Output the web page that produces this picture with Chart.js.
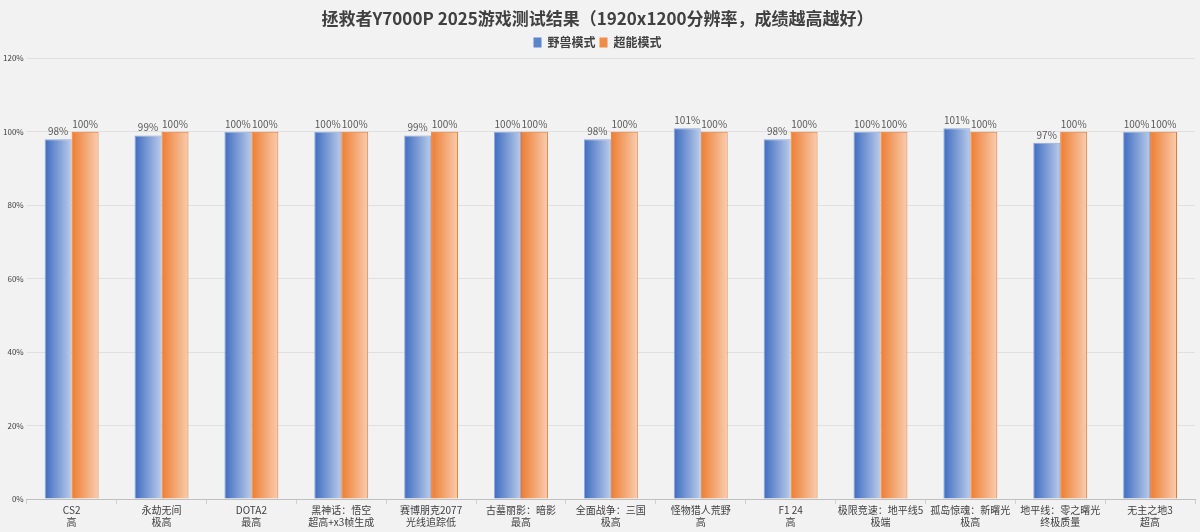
<!DOCTYPE html>
<html>
<head>
<meta charset="utf-8">
<script src="https://cdn.jsdelivr.net/npm/chart.js@4/dist/chart.umd.min.js"></script>
<style>
  html, body { margin: 0; padding: 0; background: #f2f2f2; }
  #chart { display: block; }
</style>
</head>
<body>
<canvas id="chart" width="1200" height="532"></canvas>
<script>
// game names and settings (two-line x labels)
const games = [
  ['CS2', '高'],
  ['永劫无间', '极高'],
  ['DOTA2', '最高'],
  ['黑神话：悟空', '超高+x3帧生成'],
  ['赛博朋克2077', '光线追踪低'],
  ['古墓丽影：暗影', '最高'],
  ['全面战争：三国', '极高'],
  ['怪物猎人荒野', '高'],
  ['F1 24', '高'],
  ['极限竞速：地平线5', '极端'],
  ['孤岛惊魂：新曙光', '极高'],
  ['地平线：零之曙光', '终极质量'],
  ['无主之地3', '超高']
];
const beastMode = [98, 99, 100, 100, 99, 100, 98, 101, 98, 100, 101, 97, 100];
const superMode = [100, 100, 100, 100, 100, 100, 100, 100, 100, 100, 100, 100, 100];
const yTicks = [0, 20, 40, 60, 80, 100, 120];

const FONT = '"Noto Sans CJK SC", "Noto Sans", sans-serif';
const CAT_PCT = 0.6;

// horizontal gradient per bar, worked out from the x scale
function barGradient(from, to) {
  return function (ctx) {
    const chart = ctx.chart;
    const xs = chart.scales.x;
    if (!xs || ctx.dataIndex === undefined) return from;
    const cat = xs.width / games.length;
    const w = cat * CAT_PCT / 2;
    const cx = xs.getPixelForValue(ctx.dataIndex);
    const x0 = ctx.datasetIndex === 0 ? cx - w : cx;
    if (!isFinite(x0)) return from;
    const g = chart.ctx.createLinearGradient(x0, 0, x0 + w, 0);
    g.addColorStop(0, from);
    g.addColorStop(1, to);
    return g;
  };
}

const bgPlugin = {
  id: 'bg',
  beforeDraw(chart) {
    const c = chart.ctx;
    c.save();
    c.fillStyle = '#f2f2f2';
    c.fillRect(0, 0, chart.width, chart.height);
    c.restore();
  }
};

const valueLabels = {
  id: 'valueLabels',
  afterDatasetsDraw(chart) {
    const c = chart.ctx;
    c.save();
    c.font = '10px ' + FONT;
    c.fillStyle = '#595959';
    c.textAlign = 'center';
    c.textBaseline = 'bottom';
    chart.data.datasets.forEach((ds, di) => {
      chart.getDatasetMeta(di).data.forEach((el, i) => {
        c.fillText(ds.data[i] + '%', el.x, el.y - 3);
      });
    });
    c.restore();
  }
};

new Chart(document.getElementById('chart'), {
  type: 'bar',
  data: {
    labels: games,
    datasets: [{
      label: '野兽模式',
      data: beastMode,
      backgroundColor: barGradient('#3f6cc0', '#b9cbea'),
      borderColor: '#8eaadb',
      borderWidth: 1,
      borderSkipped: 'bottom'
    }, {
      label: '超能模式',
      data: superMode,
      backgroundColor: barGradient('#ed7d31', '#f9cdb0'),
      borderColor: '#e8782c',
      borderWidth: 1,
      borderSkipped: 'bottom'
    }]
  },
  options: {
    responsive: false,
    animation: false,
    devicePixelRatio: 1,
    categoryPercentage: CAT_PCT,
    barPercentage: 1.0,
    layout: { padding: { left: 0, right: 5, top: 6, bottom: 4 } },
    scales: {
      x: {
        grid: { drawOnChartArea: false, drawTicks: true, tickLength: 5, color: '#d0d0d0' },
        border: { color: '#bfbfbf' },
        ticks: {
          color: '#404040',
          font: { family: FONT, size: 10, lineHeight: 1.2 },
          maxRotation: 0,
          autoSkip: false,
          padding: 0
        }
      },
      y: {
        min: 0,
        max: 120,
        afterBuildTicks(axis) {
          axis.ticks = yTicks.map(v => ({ value: v }));
        },
        grid: { color: '#e0e0e0', drawTicks: false },
        border: { display: false },
        ticks: {
          color: '#404040',
          font: { family: FONT, size: 8 },
          padding: 3,
          callback: v => v + '%'
        }
      }
    },
    plugins: {
      title: {
        display: true,
        text: '拯救者Y7000P 2025游戏测试结果（1920x1200分辨率，成绩越高越好）',
        color: '#404040',
        font: { family: FONT, size: 17, weight: 'bold' },
        padding: { top: 2, bottom: 4 }
      },
      legend: {
        position: 'top',
        labels: {
          color: '#404040',
          font: { family: FONT, size: 12, weight: 'bold' },
          boxWidth: 8,
          boxHeight: 10,
          padding: 4,
          generateLabels(chart) {
            const cols = ['#5b84cc', '#f08c48'];
            return chart.data.datasets.map((ds, i) => ({
              text: ds.label,
              fillStyle: cols[i],
              strokeStyle: cols[i],
              lineWidth: 0,
              datasetIndex: i,
              fontColor: '#404040'
            }));
          }
        }
      },
      tooltip: { enabled: false }
    }
  },
  plugins: [bgPlugin, valueLabels]
});
</script>
</body>
</html>
